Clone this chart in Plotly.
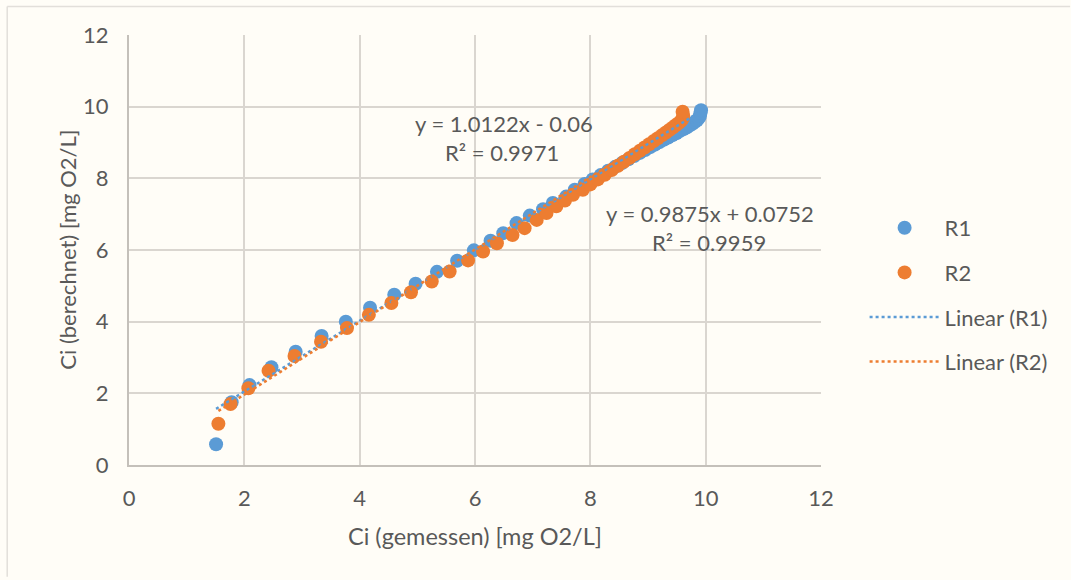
import plotly.graph_objects as go

# ---------------- data ----------------
r1_x = [1.51, 1.78, 2.09, 2.47, 2.89, 3.34, 3.76, 4.18, 4.60, 4.97, 5.34, 5.69, 5.98, 6.27,
        6.49, 6.72, 6.95, 7.18, 7.35, 7.58, 7.73, 7.90, 8.04, 8.18, 8.31, 8.43, 8.55, 8.66,
        8.76, 8.86, 8.95, 9.04, 9.12, 9.20, 9.28, 9.35, 9.42, 9.49, 9.55, 9.61, 9.67, 9.72,
        9.77, 9.81, 9.85, 9.88, 9.90, 9.91, 9.92]
r1_y = [0.58, 1.75, 2.23, 2.73, 3.16, 3.60, 4.00, 4.39, 4.75, 5.06, 5.39, 5.70, 5.99, 6.26,
        6.47, 6.75, 6.96, 7.14, 7.31, 7.49, 7.68, 7.84, 7.97, 8.09, 8.21, 8.32, 8.43, 8.53,
        8.62, 8.71, 8.79, 8.87, 8.94, 9.01, 9.08, 9.14, 9.20, 9.26, 9.32, 9.37, 9.42, 9.47,
        9.52, 9.57, 9.62, 9.68, 9.74, 9.82, 9.90]

r2_x = [1.55, 1.76, 2.07, 2.42, 2.87, 3.33, 3.78, 4.16, 4.55, 4.89, 5.25, 5.56, 5.88, 6.14,
        6.38, 6.65, 6.86, 7.07, 7.24, 7.41, 7.56, 7.70, 7.87, 8.00, 8.13, 8.25, 8.37, 8.48,
        8.58, 8.68, 8.77, 8.86, 8.94, 9.02, 9.10, 9.17, 9.24, 9.31, 9.37, 9.43, 9.48, 9.53,
        9.57, 9.60, 9.61, 9.60]
r2_y = [1.15, 1.70, 2.14, 2.63, 3.04, 3.44, 3.82, 4.19, 4.52, 4.82, 5.12, 5.40, 5.71, 5.96,
        6.19, 6.42, 6.61, 6.84, 7.03, 7.22, 7.38, 7.54, 7.68, 7.83, 7.97, 8.10, 8.23, 8.35,
        8.46, 8.57, 8.67, 8.77, 8.86, 8.95, 9.04, 9.12, 9.20, 9.28, 9.35, 9.42, 9.48, 9.54,
        9.60, 9.66, 9.75, 9.86]

r1_slope, r1_intercept, r1_r2 = 0.9875, 0.0752, 0.9959
r2_slope, r2_intercept, r2_r2 = 1.0122, -0.06, 0.9971

tick_vals = [0, 2, 4, 6, 8, 10, 12]
x_title = "Ci (gemessen) [mg O2/L]"
y_title = "Ci (berechnet) [mg O2/L]"

# ---------------- styles ----------------
BLUE = "#5B9BD5"
ORANGE = "#ED7D31"
TXT = "#595959"
GRID = "#DAD6D0"
AXIS = "#C4C0BA"
BG = "#FFFDF7"
FONT = "Lato"
FS = 22

def trend(xs, m, b):
    x0, x1 = min(xs), max(xs)
    return [x0, x1], [m * x0 + b, m * x1 + b]

t1x, t1y = trend(r1_x, r1_slope, r1_intercept)
t2x, t2y = trend(r2_x, r2_slope, r2_intercept)

fig = go.Figure()
fig.add_trace(go.Scatter(x=r1_x, y=r1_y, mode="markers", name="R1", legendgroup="a",
                         marker=dict(color=BLUE, size=14)))
fig.add_trace(go.Scatter(x=r2_x, y=r2_y, mode="markers", name="R2", legendgroup="b",
                         marker=dict(color=ORANGE, size=14)))
fig.add_trace(go.Scatter(x=t1x, y=t1y, mode="lines", name="Linear (R1)", legendgroup="c",
                         line=dict(color=BLUE, width=2.5, dash="dot")))
fig.add_trace(go.Scatter(x=t2x, y=t2y, mode="lines", name="Linear (R2)", legendgroup="d",
                         line=dict(color=ORANGE, width=2.5, dash="dot")))

def eq_text(m, b):
    sign = "+" if b >= 0 else "-"
    return f"y = {m:.4f}x {sign} {abs(b):g}"

ann = [
    (6.50, 9.53, eq_text(r2_slope, r2_intercept)),
    (6.47, 8.72, f"R² = {r2_r2}"),
    (10.07, 7.01, eq_text(r1_slope, r1_intercept)),
    (10.06, 6.20, f"R² = {r1_r2}"),
]
for x, y, t in ann:
    fig.add_annotation(x=x, y=y, text=t, showarrow=False, xanchor="center", yanchor="middle",
                       font=dict(family=FONT, size=FS, color=TXT))

# axis titles
fig.add_annotation(xref="paper", yref="paper", x=0.5, y=-0.165, text=x_title, showarrow=False,
                   xanchor="center", yanchor="middle", font=dict(family=FONT, size=23.5, color=TXT))
fig.add_annotation(xref="paper", yref="paper", x=-0.09, y=0.5, text=y_title, showarrow=False,
                   textangle=-90, xanchor="center", yanchor="middle",
                   font=dict(family=FONT, size=FS, color=TXT))

# outer frame (left and top edges)
fig.add_shape(type="line", xref="paper", yref="paper", x0=-0.176, x1=-0.176, y0=-0.26, y1=1.066,
              line=dict(color="#E2DFDA", width=1.5))
fig.add_shape(type="line", xref="paper", yref="paper", x0=-0.176, x1=1.36, y0=1.066, y1=1.066,
              line=dict(color="#E2DFDA", width=1.5))

axis_common = dict(range=[0, 12], tickvals=tick_vals, showgrid=True, gridcolor=GRID, gridwidth=2,
                   zeroline=False, showline=True, linecolor=AXIS, linewidth=2, ticks="",
                   tickfont=dict(family=FONT, size=FS, color=TXT))

fig.update_xaxes(**axis_common, ticklabelstandoff=13)
fig.update_yaxes(**axis_common, ticklabelstandoff=14)

fig.update_layout(
    width=1071, height=580,
    margin=dict(l=129, r=250, t=35, b=115),
    paper_bgcolor=BG, plot_bgcolor=BG,
    showlegend=True,
    legend=dict(x=1.063, y=0.6, xanchor="left", yanchor="top", traceorder="grouped",
                tracegroupgap=13, itemwidth=70, bgcolor="rgba(0,0,0,0)",
                font=dict(family=FONT, size=FS, color=TXT)),
    font=dict(family=FONT, color=TXT),
)

fig.write_html("out.html")
